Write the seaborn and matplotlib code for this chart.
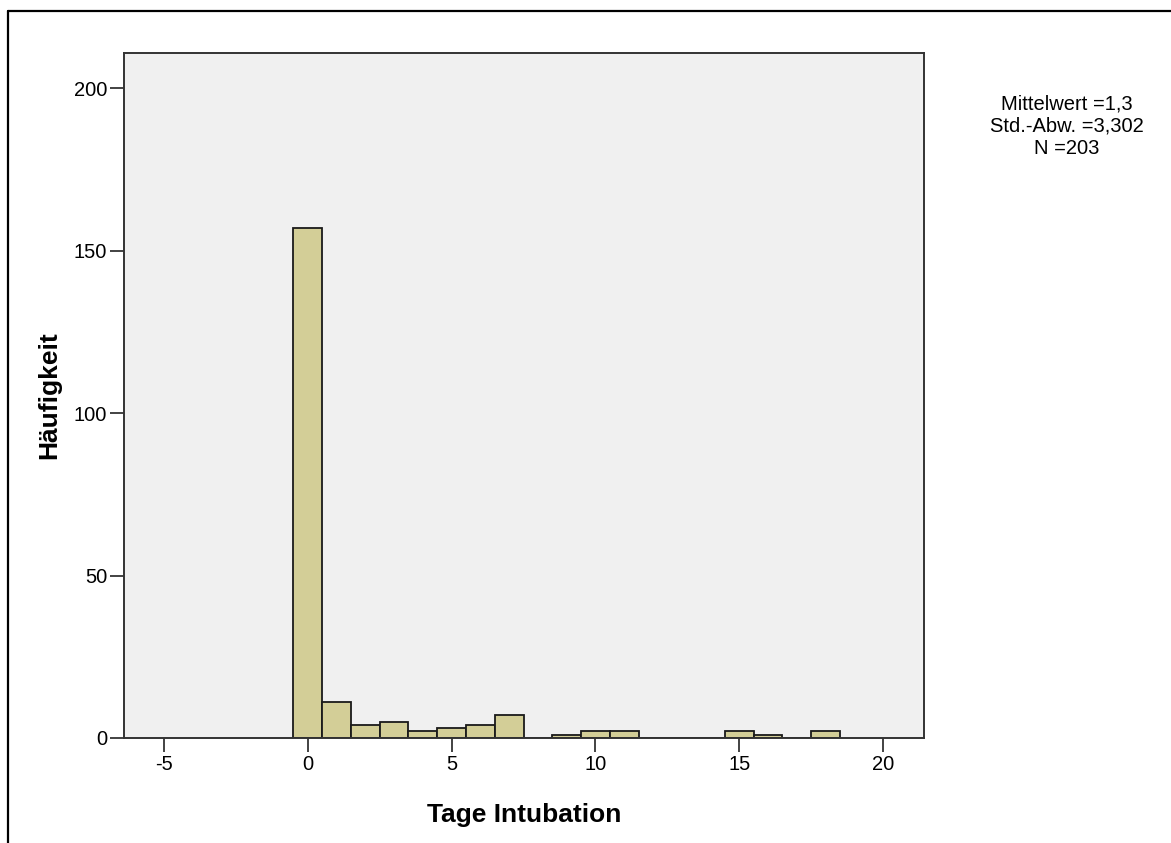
import pandas as pd
import seaborn as sns
import matplotlib
matplotlib.use("Agg")
import matplotlib.pyplot as plt
from matplotlib.lines import Line2D

# Tage Intubation -> Häufigkeit
tage = [0, 1, 2, 3, 4, 5, 6, 7, 8, 9, 10, 11, 12, 13, 14, 15, 16, 17, 18]
haeufigkeit = [157, 11, 4, 5, 2, 3, 4, 7, 0, 1, 2, 2, 0, 0, 0, 2, 1, 0, 2]
x_ticks = [-5, 0, 5, 10, 15, 20]
y_ticks = [0, 50, 100, 150, 200]
stat_lines = ["Mittelwert =1,3", "Std.-Abw. =3,302", "N =203"]

df = pd.DataFrame({"tage": tage, "n": haeufigkeit})

sns.set_style("white")
plt.rcParams['font.family'] = ['Liberation Sans', 'DejaVu Sans']
plt.rcParams['axes.unicode_minus'] = False
plt.rcParams['text.color'] = 'black'
plt.rcParams['axes.labelcolor'] = 'black'

fig = plt.figure(figsize=(11.71, 8.43), dpi=100)
ax = fig.add_axes([0.1059, 0.1246, 0.6833, 0.8125])
ax.set_facecolor("#F0F0F0")

sns.histplot(
    data=df,
    x="tage",
    weights="n",
    discrete=True,
    color="#D3CE97",
    alpha=1,
    edgecolor="#1a1a1a",
    linewidth=1.3,
    ax=ax,
)

ax.set_xlim(-6.39, 21.43)
ax.set_ylim(0, 210.8)
ax.set_xticks(x_ticks)
ax.set_yticks(y_ticks)
ax.tick_params(axis="both", direction="out", length=10, width=1.2,
               color="#222222", labelcolor="black", labelsize=14.5, pad=2,
               bottom=True, left=True)

for s in ax.spines.values():
    s.set_color("#333333")
    s.set_linewidth(1.4)

ax.set_xlabel("Tage Intubation", fontsize=19, fontweight="bold", labelpad=21)
ax.set_ylabel("Häufigkeit", fontsize=19, fontweight="bold", labelpad=9)

fig.text(1067 / 1171, 1 - 126 / 843, "\n".join(stat_lines), ha="center", va="center",
         fontsize=14.5, linespacing=1.22)

# outer frame of the output viewer (top and left edges only)
fig.add_artist(Line2D([8 / 1171, 8 / 1171], [0, 1 - 11 / 843], transform=fig.transFigure,
                      color="black", linewidth=1.6))
fig.add_artist(Line2D([8 / 1171, 1], [1 - 11 / 843, 1 - 11 / 843], transform=fig.transFigure,
                      color="black", linewidth=1.6))

fig.savefig("out.png", dpi=100)
